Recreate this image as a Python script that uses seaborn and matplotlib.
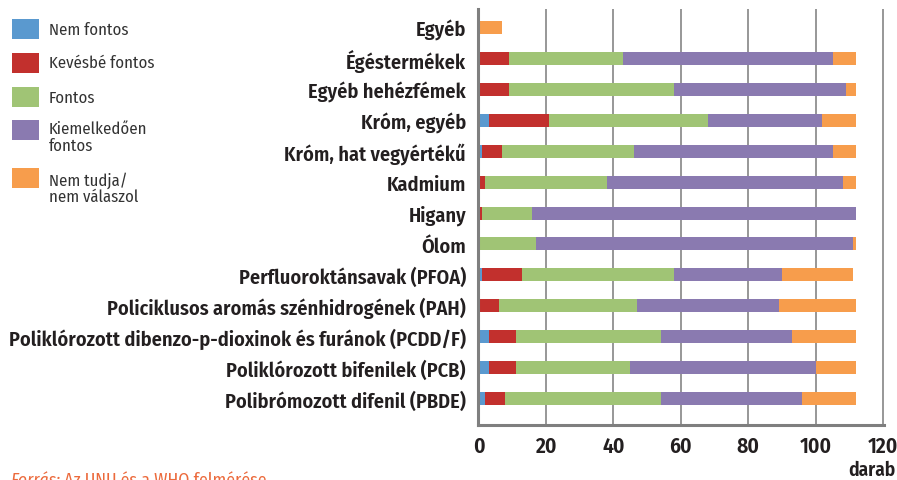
import pandas as pd
import matplotlib.pyplot as plt
import seaborn as sns
from matplotlib.patches import Rectangle

# Data

categories = ["Egyéb", "Égéstermékek", "Egyéb hehézfémek", "Króm, egyéb",
              "Króm, hat vegyértékű", "Kadmium", "Higany", "Ólom",
              "Perfluoroktánsavak (PFOA)",
              "Policiklusos aromás szénhidrogének (PAH)",
              "Poliklórozott dibenzo-p-dioxinok és furánok (PCDD/F)",
              "Poliklórozott bifenilek (PCB)",
              "Polibrómozott difenil (PBDE)"]

nem_fontos = [0, 0, 0, 3, 1, 0, 0, 0, 1, 0, 3, 3, 2]
kevesbe_fontos = [0, 9, 9, 18, 6, 2, 1, 0, 12, 6, 8, 8, 6]
fontos = [0, 34, 49, 47, 39, 36, 15, 17, 45, 41, 43, 34, 46]
kiemelkedoen = [0, 62, 51, 34, 59, 70, 96, 94, 32, 42, 39, 55, 42]
nem_tudja = [7, 7, 3, 10, 7, 4, 0, 1, 21, 23, 19, 12, 16]

series_names = ["Nem fontos", "Kevésbé fontos", "Fontos",
                "Kiemelkedően\nfontos", "Nem tudja/\nnem válaszol"]
colors = ["#5A99CF", "#C2302D", "#A0C475", "#8A7AB0", "#F79D4C"]

xticks = [0, 20, 40, 60, 80, 100, 120]

df = pd.DataFrame({
    series_names[0]: nem_fontos,
    series_names[1]: kevesbe_fontos,
    series_names[2]: fontos,
    series_names[3]: kiemelkedoen,
    series_names[4]: nem_tudja,
}, index=categories)

cum = df.cumsum(axis=1)

sns.set_style("white")
plt.rcParams["font.family"] = ["Fira Sans Condensed", "DejaVu Sans"]

fig = plt.figure(figsize=(8.97, 4.81), dpi=100)
ax = fig.add_axes([0.5334, 0.1143, 0.4526, 0.8647])

# stacked bars: draw cumulative totals from the right-most series down
for name, color in reversed(list(zip(series_names, colors))):
    sns.barplot(x=cum[name].values, y=categories, orient="h", color=color,
                saturation=1, width=0.42, linewidth=0, errorbar=None, ax=ax)

ax.set_xlim(0, 120.4)
ax.set_ylim(12.86, -0.6)
ax.set_xticks(xticks)
ax.set_xticklabels([str(t) for t in xticks], fontsize=15.5,
                   fontweight=600, color="#231F20")
for lab in ax.get_yticklabels():
    lab.set_fontsize(14.6)
    lab.set_fontweight(600)
    lab.set_color("#231F20")
ax.tick_params(axis="both", length=0)
ax.tick_params(axis="y", pad=9)
ax.tick_params(axis="x", pad=7)
ax.set_xlabel("")
ax.set_ylabel("")

ax.xaxis.grid(True, color="#8f8f8f", lw=1.3)
ax.yaxis.grid(False)
ax.set_axisbelow(True)

for s in ["top", "right"]:
    ax.spines[s].set_visible(False)
for s in ["left", "bottom"]:
    ax.spines[s].set_color("#7f7f7f")
    ax.spines[s].set_linewidth(2.2)

# Legend (upper left corner)
W, H = 897, 481
square_y = [30, 63.5, 98, 131, 179]
text_y = [30, 63.5, 98, 137.5, 189]
for name, color, sy, ty in zip(series_names, colors, square_y, text_y):
    fig.add_artist(Rectangle((12 / W, 1 - (sy + 10) / H), 27 / W, 20 / H,
                             transform=fig.transFigure, color=color, lw=0))
    fig.text(49 / W, 1 - ty / H, name, fontsize=12, color="#333333",
             va="center", ha="left", linespacing=1.05)

# Source and unit
src = fig.text(10 / W, -5 / H, "Forrás:", fontsize=12.8, style="italic",
               color="#EC6A3C", va="baseline")
ax.annotate(" Az UNU és a WHO felmérése", xy=(1, 0), xycoords=src,
            va="bottom", fontsize=12.8, color="#EC6A3C", annotation_clip=False)

fig.text(895 / W, 1 - 470 / H, "darab", fontsize=14, fontweight=600,
         color="#231F20", ha="right", va="center")

plt.savefig("out.png", dpi=100)
